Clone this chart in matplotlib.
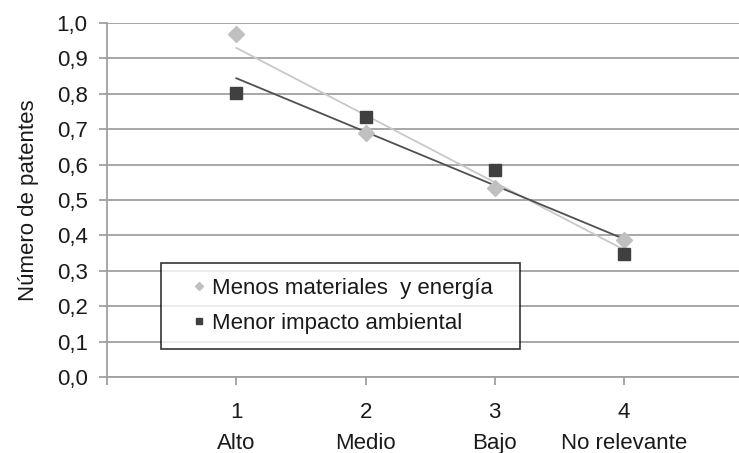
import numpy as np
import matplotlib.pyplot as plt

plt.rcParams['font.family'] = ['Liberation Sans', 'DejaVu Sans']

# Data
x = np.array([1, 2, 3, 4])
categorias = ["1\nAlto", "2\nMedio", "3\nBajo", "4\nNo relevante"]
menos_materiales = np.array([0.969, 0.689, 0.534, 0.387])
menor_impacto = np.array([0.802, 0.734, 0.585, 0.347])

fig = plt.figure(figsize=(7.39, 4.53), dpi=100)
ax = fig.add_axes([0.145, 0.168, 0.855, 0.781])

grid_c = "#a0a0a0"
txt_c = "#1a1a1a"
fs = 16
ax.set_ylim(0, 1.0)
ax.set_xlim(0, 4.89)
ax.set_yticks(np.arange(0, 1.01, 0.1))
ax.set_yticklabels([f"{v:.1f}".replace(".", ",") for v in np.arange(0, 1.01, 0.1)], fontsize=fs)
ax.set_xticks([0, 1, 2, 3, 4])
ax.set_xticklabels([""] + categorias, fontsize=fs, linespacing=1.65)
ax.yaxis.grid(True, color=grid_c, linewidth=1.3)
ax.set_axisbelow(True)
for s in ["top", "right"]:
    ax.spines[s].set_visible(False)
for s in ["left", "bottom"]:
    ax.spines[s].set_color(grid_c)
    ax.spines[s].set_linewidth(1.3)
ax.tick_params(axis="both", direction="out", color=grid_c, labelcolor=txt_c,
               width=1.3, length=6, pad=8)
ax.tick_params(axis="x", pad=12)

# Trend lines
for y, c in [(menos_materiales, "#c8c8c8"), (menor_impacto, "#505050")]:
    m, b = np.polyfit(x, y, 1)
    ax.plot([1, 4], [m * 1 + b, m * 4 + b], color=c, linewidth=1.3, zorder=2)

ax.plot(x, menos_materiales, linestyle="none", marker="D", markersize=8,
        color="#c0c0c0", label="Menos materiales  y energía", zorder=3)
ax.plot(x, menor_impacto, linestyle="none", marker="s", markersize=8,
        color="#404040", label="Menor impacto ambiental", zorder=3)

leg = ax.legend(loc="upper left", bbox_to_anchor=(0.0855, 0.0, 0.568, 0.322),
                mode="expand", fontsize=fs,
                frameon=True, fancybox=False, handlelength=2.05, handletextpad=-0.43,
                markerscale=0.55, borderpad=0.66, labelspacing=0.65, borderaxespad=0,
                labelcolor=txt_c)
leg.get_frame().set_edgecolor("black")
leg.get_frame().set_linewidth(1.2)

ax.set_ylabel("Número de patentes", fontsize=fs, labelpad=13, color=txt_c)

plt.savefig("out.png", dpi=100)
